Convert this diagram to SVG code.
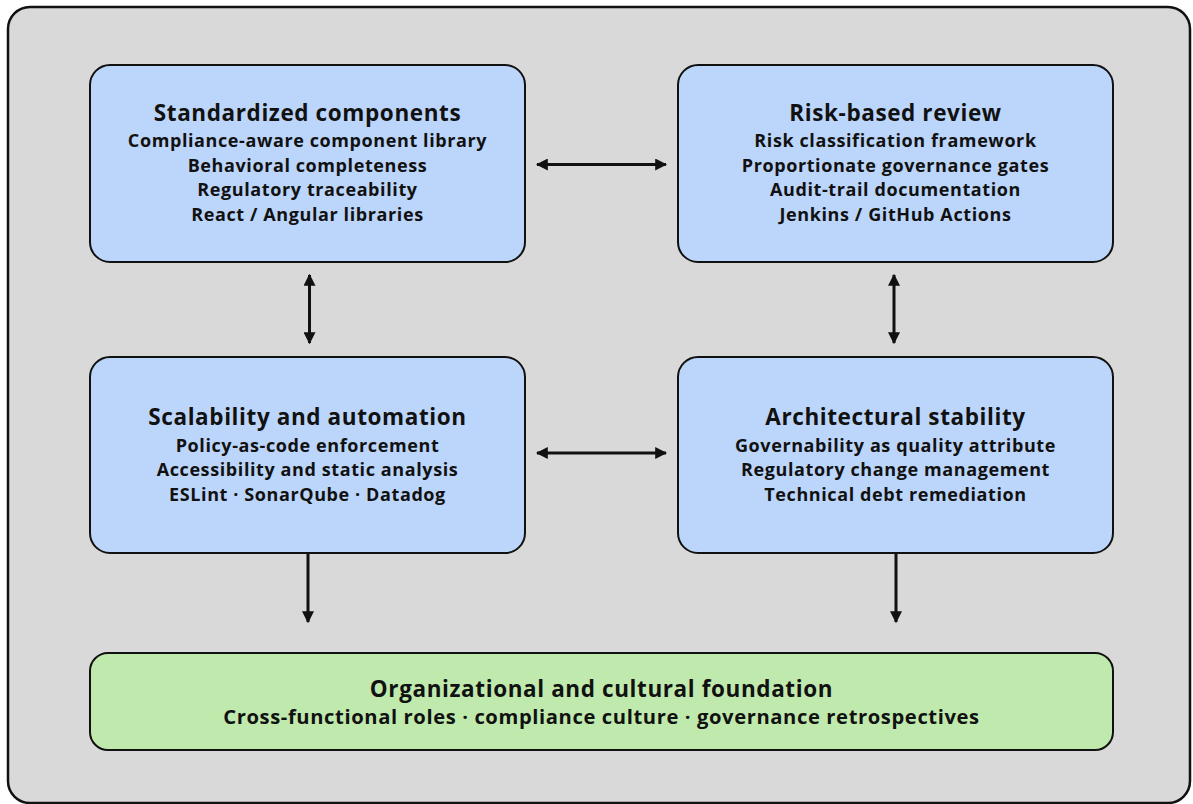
<svg xmlns="http://www.w3.org/2000/svg" width="1193" height="804" viewBox="0 0 1193 804">
  <defs>
    <marker id="arrow" viewBox="0 0 10 10" refX="9" refY="5" markerWidth="4" markerHeight="4" orient="auto-start-reverse" markerUnits="strokeWidth">
      <path d="M0,0 L10,5 L0,10 z" fill="#111"/>
    </marker>
    <style>
      .frame { fill: #d9d9d9; stroke: #111; stroke-width: 2.5; }
      .box { fill: #bcd6fb; stroke: #111; stroke-width: 2; }
      .base { fill: #c0eaad; stroke: #111; stroke-width: 2; }
      text { font-family: "Open Sans", "Noto Sans", sans-serif; font-weight: 700; fill: #111; text-anchor: middle; letter-spacing: 0.6px; }
      .title { font-size: 22.5px; }
      .item { font-size: 18px; }
      .sub { font-size: 20.2px; }
      .link { stroke: #111; stroke-width: 3; fill: none; }
    </style>
  </defs>

  <!-- outer frame -->
  <rect class="frame" x="8" y="7" width="1182" height="796" rx="22"/>

  <g id="standardized-components">
    <rect class="box" x="90" y="65" width="435" height="197" rx="20"/>
    <text class="title" x="307.5" y="121">Standardized components</text>
    <text class="item" x="307.5" y="147">Compliance-aware component library</text>
    <text class="item" x="307.5" y="171.5">Behavioral completeness</text>
    <text class="item" x="307.5" y="196">Regulatory traceability</text>
    <text class="item" x="307.5" y="220.5">React / Angular libraries</text>
  </g>

  <g id="risk-based-review">
    <rect class="box" x="678" y="65" width="435" height="197" rx="20"/>
    <text class="title" x="895.5" y="121">Risk-based review</text>
    <text class="item" x="895.5" y="147">Risk classification framework</text>
    <text class="item" x="895.5" y="171.5">Proportionate governance gates</text>
    <text class="item" x="895.5" y="196">Audit-trail documentation</text>
    <text class="item" x="895.5" y="220.5">Jenkins / GitHub Actions</text>
  </g>

  <g id="scalability-automation">
    <rect class="box" x="90" y="357" width="435" height="196" rx="20"/>
    <text class="title" x="307.5" y="425">Scalability and automation</text>
    <text class="item" x="307.5" y="451.5">Policy-as-code enforcement</text>
    <text class="item" x="307.5" y="476">Accessibility and static analysis</text>
    <text class="item" x="307.5" y="500.5">ESLint · SonarQube · Datadog</text>
  </g>

  <g id="architectural-stability">
    <rect class="box" x="678" y="357" width="435" height="196" rx="20"/>
    <text class="title" x="895.5" y="425">Architectural stability</text>
    <text class="item" x="895.5" y="451.5">Governability as quality attribute</text>
    <text class="item" x="895.5" y="476">Regulatory change management</text>
    <text class="item" x="895.5" y="500.5">Technical debt remediation</text>
  </g>

  <g id="organizational-foundation">
    <rect class="base" x="90" y="653" width="1023" height="97" rx="18"/>
    <text class="title" x="601.5" y="697">Organizational and cultural foundation</text>
    <text class="sub" x="601.5" y="724">Cross-functional roles · compliance culture · governance retrospectives</text>
  </g>

  <g id="connectors">
    <line class="link" x1="537" y1="164.5" x2="666" y2="164.5" marker-start="url(#arrow)" marker-end="url(#arrow)"/>
    <line class="link" x1="537" y1="453" x2="666" y2="453" marker-start="url(#arrow)" marker-end="url(#arrow)"/>
    <line class="link" x1="309.5" y1="275" x2="309.5" y2="343" marker-start="url(#arrow)" marker-end="url(#arrow)"/>
    <line class="link" x1="894" y1="275" x2="894" y2="343" marker-start="url(#arrow)" marker-end="url(#arrow)"/>
    <line class="link" x1="308" y1="553" x2="308" y2="622" marker-end="url(#arrow)"/>
    <line class="link" x1="896" y1="553" x2="896" y2="622" marker-end="url(#arrow)"/>
  </g>
</svg>
